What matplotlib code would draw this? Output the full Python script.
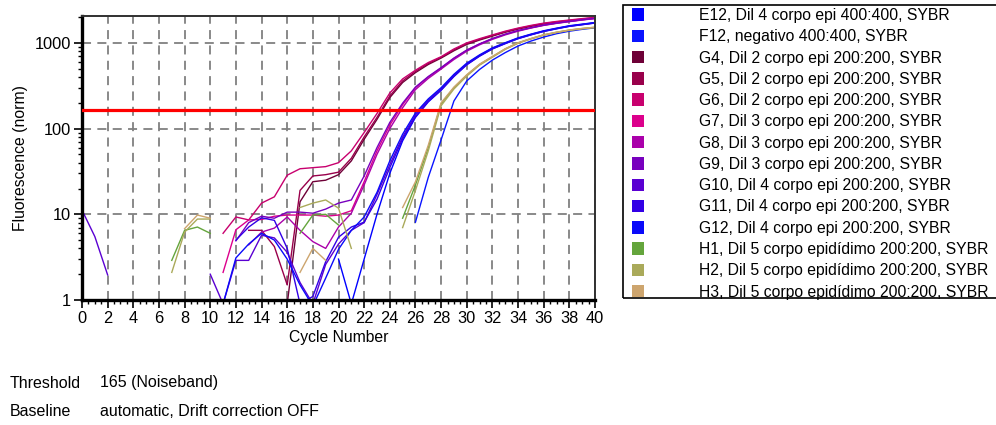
import numpy as np
import matplotlib.pyplot as plt
from matplotlib.patches import Patch, Rectangle
from matplotlib.ticker import LogLocator, MultipleLocator, NullFormatter

plt.rcParams['font.family'] = ['Liberation Sans', 'DejaVu Sans']

nan = np.nan
cycles = np.arange(41)

# normalised fluorescence per cycle (nan = not drawn)
E12 = [nan] * 20 + [3.0, 0.9, 3.0, 10, 30, 72, 135, 205, 280, 405,
                    555, 700, 850, 980, 1120, 1240, 1360, 1460, 1560, 1630, 1705]
F12 = [nan] * 26 + [8.1, 27, 74, 210,
                    360, 490, 630, 770, 920, 1050, 1170, 1280, 1370, 1440, 1500]
G4 = [nan] * 16 + [0.9, 14, 24, 25,
                   29, 42, 75, 128, 230, 345, 450, 560, 665, 810,
                   960, 1080, 1200, 1330, 1450, 1560, 1660, 1740, 1810, 1880, 1950]
G5 = [nan] * 13 + [6.5, 6.5, 4.2, 1.5, 19, 28, 29,
                   31, 45, 80, 135, 240, 360, 465, 575, 680, 830,
                   980, 1100, 1220, 1350, 1470, 1580, 1680, 1760, 1830, 1900, 1970]
G6 = [nan] * 11 + [6.0, 9.3, 8.6, 13.5, 16, 28.6, 34, 35, 36,
                   40, 55, 90, 150, 260, 380, 480, 590, 690, 850,
                   1000, 1120, 1240, 1370, 1490, 1600, 1700, 1780, 1850, 1920, 1990]
G7 = [nan] * 11 + [2.1, 6.6, 8.6, 8.7, 9.5, 9.8, 9.8, 9.8, 9.5,
                   9.8, 11, 24, 55, 110, 190, 300, 400, 510, 660,
                   820, 970, 1120, 1260, 1390, 1500, 1610, 1700, 1780, 1860, 1930]
G8 = [nan] * 13 + [4.4, 6.2, 6.9, 9.3, 6.5, 4.8, 4.0,
                   7.1, 10.3, 22, 50, 100, 175, 285, 385, 495, 640,
                   800, 950, 1100, 1240, 1370, 1490, 1600, 1690, 1770, 1850, 1920]
G9 = [nan] * 12 + [4.9, 8.0, 9.5, 9.0, 10.6, 10.6, 10.3, 11.5,
                   13.5, 14.7, 28, 60, 118, 198, 305, 405, 515, 665,
                   825, 975, 1125, 1265, 1395, 1505, 1615, 1705, 1785, 1865, 1935]
G10 = [11.2, 5.5, 1.96] + [nan] * 7 + [2.0, 0.9, 2.9, 2.9, 5.7, 5.3, 3.6, 1.6, 0.9, 2.6,
                                      4.5, 6.5, 8, 17, 38, 80, 145, 215, 290, 420,
                                      570, 715, 865, 995, 1135, 1255, 1375, 1475, 1575, 1645, 1720]
G11 = [nan] * 12 + [5.0, 7.1, 9.1, 8.5, 4.0, 0.9, 1.1, 2.8,
                    5.4, 7.1, 8.1, 15, 35, 76, 138, 208, 283, 410,
                    560, 705, 855, 985, 1125, 1245, 1365, 1465, 1565, 1635, 1710]
G12 = [nan] * 11 + [0.9, 3.1, 4.5, 6.0, 5.0, 3.0, 1.5, 0.85, 1.8,
                    3.9, 6.5, 9.3, 18, 42, 86, 152, 222, 300, 430,
                    580, 725, 875, 1005, 1145, 1265, 1385, 1485, 1585, 1655, 1730]
H1 = [nan] * 7 + [2.9, 6.5, 7.1, 6.0] + [nan] * 6 + [6.0, 9.8, 10, 7.5] + [nan] * 4 + \
     [9, 22, 60, 195, 300, 420, 560, 690, 850, 1000, 1120, 1240, 1330, 1410, 1470, 1520]
H2 = [nan] * 7 + [2.1, 6.2, 8.8, 8.8] + [nan] * 6 + [12, 13.5, 14.7, 11.8, 4.0] + [nan] * 3 + \
     [7, 19, 55, 185, 290, 410, 550, 680, 840, 990, 1110, 1230, 1320, 1400, 1460, 1510]
H3 = [nan] * 8 + [6.8, 9.8, 9.0] + [nan] * 6 + [2.1, 4.0, 2.9] + [nan] * 5 + \
     [12, 24, 64, 200, 305, 425, 565, 695, 855, 1005, 1125, 1245, 1335, 1415, 1475, 1525]

series = [E12, F12, G4, G5, G6, G7, G8, G9, G10, G11, G12, H1, H2, H3]
labels = ['E12, Dil 4 corpo epi 400:400, SYBR',
          'F12, negativo 400:400, SYBR',
          'G4, Dil 2 corpo epi 200:200, SYBR',
          'G5, Dil 2 corpo epi 200:200, SYBR',
          'G6, Dil 2 corpo epi 200:200, SYBR',
          'G7, Dil 3 corpo epi 200:200, SYBR',
          'G8, Dil 3 corpo epi 200:200, SYBR',
          'G9, Dil 3 corpo epi 200:200, SYBR',
          'G10, Dil 4 corpo epi 200:200, SYBR',
          'G11, Dil 4 corpo epi 200:200, SYBR',
          'G12, Dil 4 corpo epi 200:200, SYBR',
          'H1, Dil 5 corpo epidídimo 200:200, SYBR',
          'H2, Dil 5 corpo epidídimo 200:200, SYBR',
          'H3, Dil 5 corpo epidídimo 200:200, SYBR']
colors = ['#0000ff', '#0a14ff', '#6e0037', '#99004b', '#c8006e', '#dc008c',
          '#aa00aa', '#7800be', '#5a00d2', '#3200e6', '#0a0afa',
          '#64a53c', '#aaaa5a', '#cda56e']

threshold = 165

fig = plt.figure(figsize=(9.96, 4.25), dpi=100)
ax = fig.add_axes([82 / 996, 1 - 300 / 425, 513 / 996, 284 / 425])

for vals, c in zip(series, colors):
    ax.plot(cycles, vals, color=c, lw=1.0)
ax.axhline(threshold, color='#ff0000', lw=2.3, zorder=5)

ax.set_yscale('log')
ax.set_xlim(0, 40)
ax.set_ylim(1, 2060)
ax.set_yticks([1, 10, 100, 1000], labels=['1', '10', '100', '1000'])
ax.yaxis.set_minor_locator(LogLocator(base=10, subs=np.arange(2, 10)))
ax.yaxis.set_minor_formatter(NullFormatter())
ax.set_xticks(np.arange(0, 41, 2))
ax.xaxis.set_minor_locator(MultipleLocator(0.5))

ax.grid(True, which='major', color='#808080', lw=1.3, ls=(0, (5, 3.5)))
ax.tick_params(which='major', length=6, width=1.2, labelsize=11.8, pad=2)
ax.tick_params(which='minor', length=3, width=1.0)

for side in ['left', 'bottom']:
    ax.spines[side].set_linewidth(2.4)
    ax.spines[side].set_color('black')
for side in ['top', 'right']:
    ax.spines[side].set_linewidth(1.4)
    ax.spines[side].set_color('#303030')

ax.set_xlabel('Cycle Number', fontsize=11.3, labelpad=3)
ax.set_ylabel('Fluorescence (norm)', fontsize=11.3, labelpad=5)

handles = [Patch(facecolor=c, edgecolor='none') for c in colors]
fig.legend(handles, labels, loc='upper left', bbox_to_anchor=(632 / 996, 1 - 8 / 425),
           frameon=False, fontsize=11.3, handlelength=0.75, handleheight=0.85,
           handletextpad=3.5, labelspacing=0.4, borderpad=0, borderaxespad=0)
fig.add_artist(Rectangle((623 / 996, 1 - 298 / 425), 0.5, 293 / 425,
                         transform=fig.transFigure, fill=False, ec='black', lw=1.2))

fig.text(10 / 996, 1 - 383 / 425, 'Threshold', va='center', fontsize=11.5)
fig.text(100 / 996, 1 - 383 / 425, f'{threshold} (Noiseband)', va='center', fontsize=11.5)
fig.text(10 / 996, 1 - 411 / 425, 'Baseline', va='center', fontsize=11.5)
fig.text(100 / 996, 1 - 411 / 425, 'automatic, Drift correction OFF', va='center', fontsize=11.5)

fig.savefig('out.png', dpi=100)
